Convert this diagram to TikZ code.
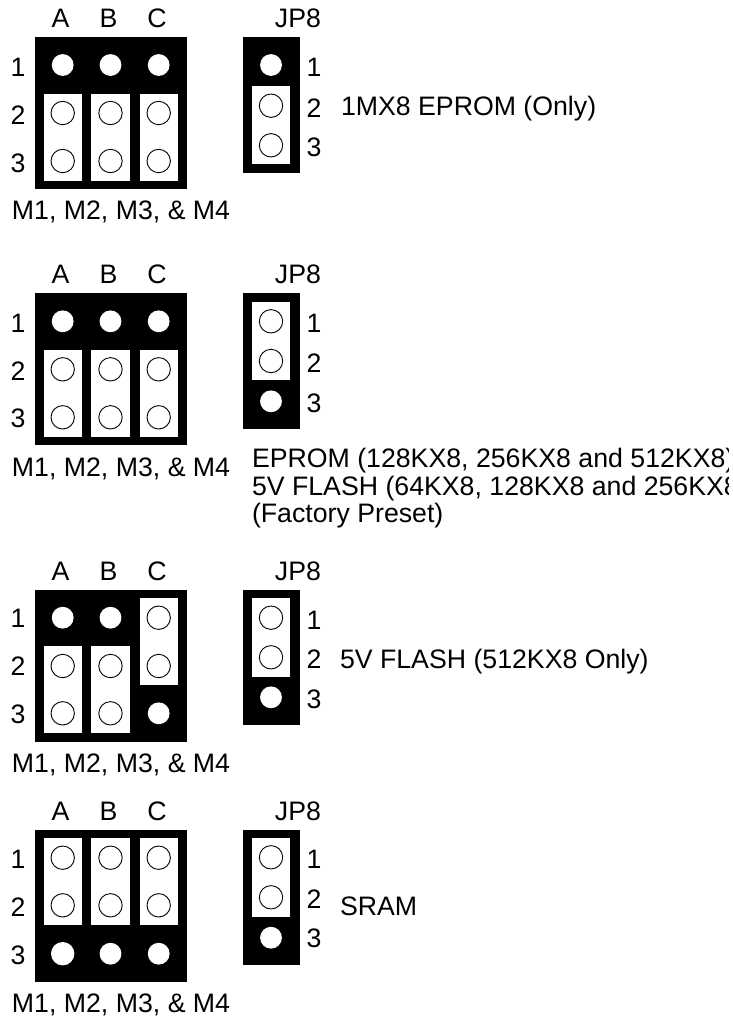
\documentclass[tikz,border=0pt]{standalone}
\usepackage{fontspec}
\setmainfont{Liberation Sans}
\tikzset{
  lbl/.style={font=\fontsize{26.7}{28}\selectfont,inner sep=0pt,outer sep=0pt,anchor=base},
  lblw/.style={lbl,anchor=base west},
  lble/.style={lbl,anchor=base east},
  board/.style={fill=black,draw=none},
  jumper/.style={fill=white,draw=none},
  openpin/.style={draw=black,line width=0.9pt,fill=white},
  shortpin/.style={fill=white,draw=none}
}
% #1 = top of block, then row-label baselines, side-label baselines
\newcommand{\blocklabels}[9]{%
  \node[lbl] at (60.5,#1-9.5) {A};
  \node[lbl] at (108.5,#1-9.5) {B};
  \node[lbl] at (157,#1-9.5) {C};
  \node[lble] at (321,#1-9.5) {JP8};
  \node[lbl] at (18,#2) {1};
  \node[lbl] at (18,#3) {2};
  \node[lbl] at (18,#4) {3};
  \node[lbl] at (314,#5) {1};
  \node[lbl] at (314,#6) {2};
  \node[lbl] at (314,#7) {3};
  \node[lblw] at (12,#8) {M1, M2, M3, \& M4};
  \draw[board] (35,#1) rectangle (187,#1+152.3);
  \draw[board] (243,#1) rectangle (299.5,#1+#9);
}
\newcommand{\jmp}[3]{\fill[jumper] (#1-19.2,#2) rectangle (#1+19.2,#3);}
\newcommand{\opin}[2]{\draw[openpin] (#1,#2) circle (11.7);}
\newcommand{\spin}[2]{\fill[shortpin] (#1,#2) circle (10.9);}
\begin{document}
\begin{tikzpicture}[x=1pt,y=-1pt]
\useasboundingbox (0,0) rectangle (733,1021);
\begin{scope}
\clip (0,0) rectangle (728.5,1021);
% ---- block 1
\blocklabels{37}{76}{124}{172}{76}{117}{156}{219}{136}
\foreach \x in {62.7,110.5,158.7}{
  \spin{\x}{65}
  \jmp{\x}{94.3}{181}
  \opin{\x}{113}
  \opin{\x}{161}
}
\spin{271}{65}
\jmp{271}{86}{164.3}
\opin{271}{105.7}
\opin{271}{145.3}
\node[lblw] (t1) at (341,115) {1MX8 EPROM (Only)};
% ---- block 2
\blocklabels{293}{332}{380}{427.7}{332}{372.7}{412.7}{476.7}{136.3}
\foreach \x in {62.7,110.5,158.7}{
  \spin{\x}{321.3}
  \jmp{\x}{350.3}{436.7}
  \opin{\x}{369.3}
  \opin{\x}{417.3}
}
\jmp{271}{302.3}{380.3}
\opin{271}{321.3}
\opin{271}{361}
\spin{271}{401.3}
\node[lblw] (t2a) at (252,467.5) {EPROM (128KX8, 256KX8 and 512KX8)};
\node[lblw] (t2b) at (252,495) {5V FLASH (64KX8, 128KX8 and 256KX8)};
\node[lblw] (t2c) at (252,522.5) {(Factory Preset)};
% ---- block 3
\blocklabels{589.5}{627}{675.6}{723}{629}{668}{708}{772}{135.5}
\foreach \x in {62.7,110.5}{
  \spin{\x}{617.7}
  \jmp{\x}{646}{732.7}
  \opin{\x}{666}
  \opin{\x}{713.3}
}
\jmp{158.7}{598.3}{684.7}
\opin{158.7}{617.7}
\opin{158.7}{666}
\spin{158.7}{713.3}
\jmp{271}{598.3}{676.7}
\opin{271}{617.7}
\opin{271}{657.3}
\spin{271}{697.3}
\node[lblw] (t3) at (340,668) {5V FLASH (512KX8 Only)};
% ---- block 4
\blocklabels{829.5}{868.7}{916.7}{964.7}{868.7}{908}{947.7}{1012.7}{135.5}
\foreach \x in {62.7,110.5,158.7}{
  \jmp{\x}{838.3}{925}
  \opin{\x}{857.7}
  \opin{\x}{905.3}
}
\fill[shortpin] (62.7,953.7) circle (11.7);
\spin{110.5}{953.7}
\spin{158.7}{953.7}
\jmp{271}{838.3}{917}
\opin{271}{857.3}
\opin{271}{897.3}
\spin{271}{937.7}
\node[lblw] (t4) at (340,915.7) {SRAM};
\end{scope}
\end{tikzpicture}
\end{document}
